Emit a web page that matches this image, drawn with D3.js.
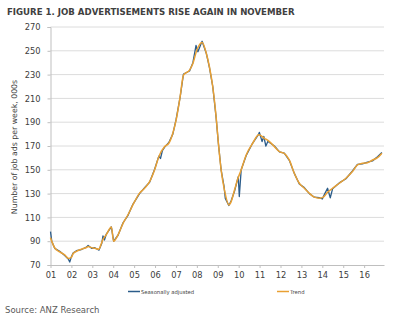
<!DOCTYPE html>
<html><head><meta charset="utf-8">
<script src="https://cdn.jsdelivr.net/npm/d3@7"></script>
<style>body{margin:0;background:#fff;} svg{display:block;}</style>
</head><body>
<svg id="c" width="400" height="329"></svg>
<script>
const title = "FIGURE 1. JOB ADVERTISEMENTS RISE AGAIN IN NOVEMBER";
const yTitle = "Number of job ads per week, 000s";
const source = "Source: ANZ Research";
const seriesNames = ["Seasonally adjusted", "Trend"];
const yTicks = [70, 90, 110, 130, 150, 170, 190, 210, 230, 250, 270];
const xTickYears = [2001,2002,2003,2004,2005,2006,2007,2008,2009,2010,2011,2012,2013,2014,2015,2016];
const xTickLabels = ["01","02","03","04","05","06","07","08","09","10","11","12","13","14","15","16"];

const trendT = [2001.00,2001.08,2001.20,2001.44,2001.68,2001.87,2002.00,2002.08,2002.24,2002.48,2002.72,2002.80,2002.96,2003.12,2003.32,2003.40,2003.51,2003.67,2003.91,2004.02,2004.23,2004.47,2004.70,2004.94,2005.26,2005.50,2005.74,2005.98,2006.18,2006.46,2006.66,2006.85,2007.01,2007.20,2007.36,2007.65,2007.81,2008.00,2008.25,2008.45,2008.60,2008.76,2008.92,2009.03,2009.16,2009.32,2009.53,2009.64,2009.80,2009.95,2010.12,2010.36,2010.67,2010.96,2011.23,2011.47,2011.71,2011.95,2012.18,2012.42,2012.66,2012.90,2013.14,2013.38,2013.62,2013.86,2014.05,2014.25,2014.49,2014.81,2015.13,2015.44,2015.68,2015.92,2016.16,2016.40,2016.64,2016.85];
const trendV = [93,89,84.5,81,78.5,75.5,76.5,79.5,81.5,83.3,84.7,85.5,84.6,84,83.3,86.5,91.5,95.5,102,90,95.4,105,112,120.5,130.4,134.5,140,150,161,169.5,172.3,180.7,191.9,211.4,229.6,233.8,239.4,250.6,257,248,236.6,219.8,194.6,172.3,150,133,120.5,123.3,133,142,150,162.5,172.3,179.5,176.5,173.7,169.5,165.3,163.9,158.3,147.1,138.7,134.5,130.3,127,126.1,127,131.1,134.5,138.7,142.9,148.5,154.1,155.5,156,158.2,160.2,164];

const saT = [2001.00,2001.06,2001.20,2001.44,2001.68,2001.85,2001.92,2002.00,2002.08,2002.24,2002.48,2002.72,2002.80,2002.96,2003.12,2003.32,2003.45,2003.51,2003.58,2003.67,2003.91,2004.02,2004.23,2004.47,2004.70,2004.94,2005.26,2005.50,2005.74,2005.98,2006.18,2006.26,2006.35,2006.46,2006.66,2006.85,2007.01,2007.20,2007.36,2007.65,2007.81,2007.96,2008.05,2008.20,2008.25,2008.45,2008.60,2008.76,2008.92,2009.03,2009.16,2009.30,2009.36,2009.53,2009.64,2009.80,2009.98,2010.03,2010.12,2010.36,2010.67,2010.96,2010.99,2011.12,2011.20,2011.30,2011.40,2011.47,2011.71,2011.95,2012.18,2012.42,2012.66,2012.90,2013.14,2013.38,2013.62,2013.86,2014.00,2014.12,2014.25,2014.38,2014.49,2014.81,2015.13,2015.44,2015.68,2015.92,2016.16,2016.40,2016.64,2016.85];
const saV = [98,90,84,81.5,78,75,72.5,77,80,82,83,85,86.5,84,84.5,82.5,88,94.5,91,96,102,90,95,105.5,111.5,121,130,135,139.5,150.5,161.5,159.5,166,169,173,180,192.5,211,230.5,233,240,254.5,249.2,256,258,248,236,220,194,172,150,136,126,120,124,132,144.3,127.5,150,162,172.5,180,181.5,173.7,178,170,174,173,170,165,164,158,147,138,135,130,127,126.5,125.5,130,134.5,126.5,134,139,142.5,149,154.5,155,156.5,157.5,161,164.5];

const svg = d3.select("#c");
const font = "'DejaVu Sans', Verdana, sans-serif";
const m = {left: 50.5, right: 384, top: 27, bottom: 265};

const x = d3.scaleLinear().domain([2001, 2016.95]).range([m.left, m.right]);
const y = d3.scaleLinear().domain([70, 270]).range([m.bottom, m.top]);

// title
svg.append("text").attr("x", 7).attr("y", 15).text(title)
  .attr("font-family", font).attr("font-weight", "bold").attr("font-size", 8.6)
  .attr("fill", "#404040");

// gridlines
svg.append("g").selectAll("line").data(yTicks.filter(d => d > 70)).join("line")
  .attr("x1", m.left).attr("x2", m.right)
  .attr("y1", d => y(d)).attr("y2", d => y(d))
  .attr("stroke", "#dcdcdc").attr("stroke-width", 1);

// y axis
const yAxis = svg.append("g").attr("transform", `translate(${m.left},0)`)
  .call(d3.axisLeft(y).tickValues(yTicks).tickSize(3).tickPadding(7));
yAxis.select(".domain").attr("stroke", "#bfbfbf");
yAxis.selectAll(".tick line").attr("stroke", "#bfbfbf");
yAxis.selectAll("text").attr("font-family", font).attr("font-size", 8.3).attr("fill", "#404040");

// x axis
const xAxis = svg.append("g").attr("transform", `translate(0,${m.bottom})`)
  .call(d3.axisBottom(x).tickValues(xTickYears).tickFormat((d, i) => xTickLabels[i]).tickSize(3).tickPadding(4).tickSizeOuter(0));
xAxis.select(".domain").attr("stroke", "#bfbfbf");
xAxis.selectAll(".tick line").attr("stroke", "#bfbfbf");
xAxis.selectAll("text").attr("font-family", font).attr("font-size", 8.3).attr("fill", "#404040");

// y title
svg.append("text").attr("transform", "translate(17,147) rotate(-90)")
  .attr("text-anchor", "middle").text(yTitle)
  .attr("font-family", font).attr("font-size", 7.8).attr("fill", "#404040");

// lines
const line = d3.line().x(d => x(d[0])).y(d => y(d[1]));
const saData = saT.map((t, i) => [t, saV[i]]);
const trData = trendT.map((t, i) => [t, trendV[i]]);
svg.append("path").datum(saData).attr("d", line)
  .attr("fill", "none").attr("stroke", "#2b5c8a").attr("stroke-width", 1.3).attr("stroke-linejoin", "round");
svg.append("path").datum(trData).attr("d", d3.line().x(d => x(d[0])).y(d => y(d[1])).curve(d3.curveMonotoneX))
  .attr("fill", "none").attr("stroke", "#e9a033").attr("stroke-width", 1.5).attr("stroke-linejoin", "round");

// legend
const legend = [{name: seriesNames[0], color: "#2b5c8a", x: 128}, {name: seriesNames[1], color: "#e9a033", x: 277}];
const lg = svg.append("g");
legend.forEach(l => {
  lg.append("line").attr("x1", l.x).attr("x2", l.x + 12).attr("y1", 291.5).attr("y2", 291.5)
    .attr("stroke", l.color).attr("stroke-width", 1.5);
  lg.append("text").attr("x", l.x + 13).attr("y", 293.5).text(l.name)
    .attr("font-family", font).attr("font-size", 5.3).attr("fill", "#404040");
});

// source
svg.append("text").attr("x", 5).attr("y", 313).text(source)
  .attr("font-family", font).attr("font-size", 8.5).attr("fill", "#595959");
</script>
</body></html>
